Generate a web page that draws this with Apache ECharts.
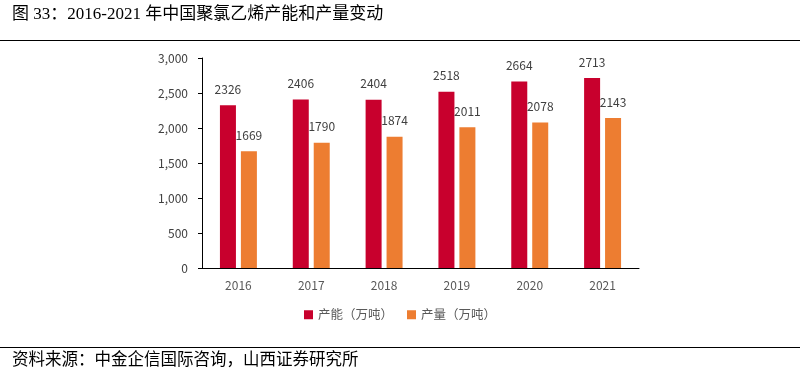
<!DOCTYPE html>
<html><head><meta charset="utf-8">
<script src="https://cdn.jsdelivr.net/npm/echarts@6/dist/echarts.min.js"></script>
<style>html,body{margin:0;padding:0;background:#fff}#c{width:800px;height:369px}</style>
</head><body><div id="c"></div>
<script>
var categories = ['2016','2017','2018','2019','2020','2021'];
var capacity = [2326, 2406, 2404, 2518, 2664, 2713];
var output = [1669, 1790, 1874, 2011, 2078, 2143];
var seriesNames = ['产能（万吨）', '产量（万吨）'];
var titleText = '图 33：2016-2021 年中国聚氯乙烯产能和产量变动';
var sourceText = '资料来源：中金企信国际咨询，山西证券研究所';

var chart = echarts.init(document.getElementById('c'));
chart.setOption({
  animation: false,
  graphic: [
    {type:'text', left: 12, top: 6, style:{text: titleText, font: '17px "Liberation Serif", "Noto Sans CJK SC"', fill:'#000'}},
    {type:'line', shape:{x1:0,y1:40.5,x2:800,y2:40.5}, style:{stroke:'#000', lineWidth:1}},
    {type:'line', shape:{x1:0,y1:347.5,x2:800,y2:347.5}, style:{stroke:'#000', lineWidth:1}},
    {type:'text', left: 12, top: 350, style:{text: sourceText, font: '16.5px "Noto Sans CJK SC"', fill:'#000'}}
  ],
  grid: {left: 202, right: 161, top: 58, bottom: 101},
  legend: {
    data: seriesNames, bottom: 43, left: 'center', itemWidth: 9, itemHeight: 9, itemGap: 14,
    icon: 'rect',
    textStyle: {fontSize: 12.5, color: '#595959', fontFamily: '"Noto Sans CJK SC"'}
  },
  xAxis: {
    type: 'category', data: categories,
    axisLine: {lineStyle: {color: '#000'}},
    axisTick: {inside: true, length: 4, lineStyle: {color: '#000'}},
    axisLabel: {color: '#595959', fontSize: 12, margin: 11, fontFamily: '"Noto Sans CJK SC"'}
  },
  yAxis: {
    type: 'value', min: 0, max: 3000, interval: 500,
    axisLine: {show: true, lineStyle: {color: '#000'}},
    axisTick: {show: true, length: 4, lineStyle: {color: '#000'}},
    splitLine: {show: false},
    axisLabel: {color: '#404040', fontSize: 12, margin: 14, fontFamily: '"Noto Sans CJK SC"',
      formatter: function(v){ return v.toLocaleString('en-US'); }}
  },
  series: [
    {name: seriesNames[0], type: 'bar', data: capacity, barWidth: 16, barGap: '31%',
     itemStyle: {color: '#C8002D'},
     label: {show: true, position: 'top', distance: 10, color: '#404040', fontSize: 12, fontFamily: '"Noto Sans CJK SC"'}},
    {name: seriesNames[1], type: 'bar', data: output, barWidth: 16,
     itemStyle: {color: '#ED7D31'},
     label: {show: true, position: 'top', distance: 10, color: '#404040', fontSize: 12, fontFamily: '"Noto Sans CJK SC"'}}
  ]
});
</script></body></html>
